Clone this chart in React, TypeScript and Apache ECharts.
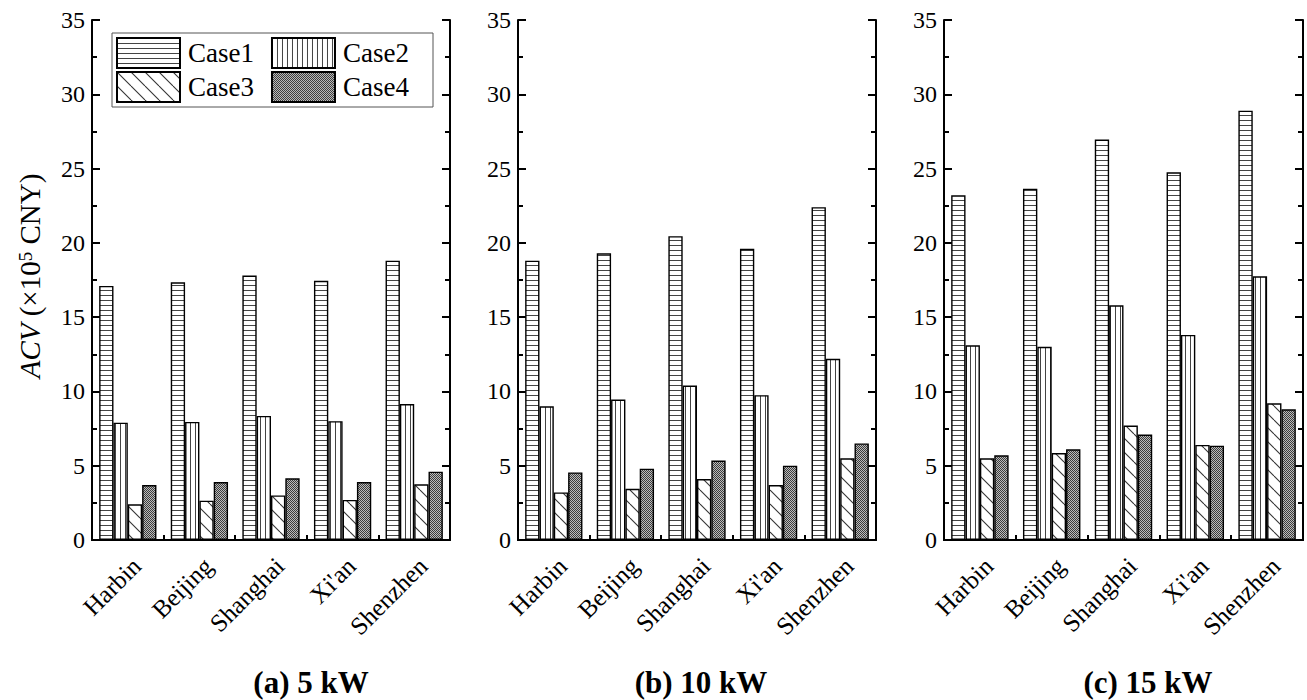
import React, { useEffect, useRef } from "react";
import * as echarts from "echarts";

const categories = ["Harbin", "Beijing", "Shanghai", "Xi'an", "Shenzhen"];
const caseNames = ["Case1", "Case2", "Case3", "Case4"];
const yTicks = [0, 5, 10, 15, 20, 25, 30, 35];
const panelTitles = ["(a) 5 kW", "(b) 10 kW", "(c) 15 kW"];

// (a) 5 kW
const kw5Case1 = [17.1, 17.35, 17.8, 17.45, 18.8];
const kw5Case2 = [7.9, 7.95, 8.35, 8.0, 9.15];
const kw5Case3 = [2.4, 2.65, 3.0, 2.7, 3.75];
const kw5Case4 = [3.7, 3.9, 4.15, 3.9, 4.6];
// (b) 10 kW
const kw10Case1 = [18.8, 19.3, 20.45, 19.6, 22.4];
const kw10Case2 = [9.0, 9.45, 10.4, 9.75, 12.2];
const kw10Case3 = [3.2, 3.45, 4.1, 3.7, 5.5];
const kw10Case4 = [4.55, 4.8, 5.35, 5.0, 6.5];
// (c) 15 kW
const kw15Case1 = [23.2, 23.65, 26.95, 24.75, 28.9];
const kw15Case2 = [13.1, 13.0, 15.8, 13.8, 17.75];
const kw15Case3 = [5.5, 5.85, 7.7, 6.4, 9.2];
const kw15Case4 = [5.7, 6.1, 7.1, 6.35, 8.8];

const panels = [
  [kw5Case1, kw5Case2, kw5Case3, kw5Case4],
  [kw10Case1, kw10Case2, kw10Case3, kw10Case4],
  [kw15Case1, kw15Case2, kw15Case3, kw15Case4],
];

const FONT = "Liberation Serif";

function makePattern(kind: string) {
  const c = document.createElement("canvas");
  let w = 5, h = 5;
  if (kind === "h") { w = 6; h = 5; }
  if (kind === "v") { w = 5; h = 6; }
  if (kind === "d") { w = 14; h = 14; }
  if (kind === "x") { w = 2; h = 2; }
  c.width = w; c.height = h;
  const ctx = c.getContext("2d")!;
  ctx.fillStyle = "#fff";
  ctx.fillRect(0, 0, w, h);
  if (kind === "h") { ctx.fillStyle = "#444"; ctx.fillRect(0, 0, w, 1); }
  if (kind === "v") { ctx.fillStyle = "#444"; ctx.fillRect(0, 0, 1, h); }
  if (kind === "d") {
    ctx.strokeStyle = "#333"; ctx.lineWidth = 1.1;
    for (const o of [-14, 0, 14]) {
      ctx.beginPath(); ctx.moveTo(o, 0); ctx.lineTo(o + 14, 14); ctx.stroke();
    }
  }
  if (kind === "x") {
    ctx.fillStyle = "#bbb"; ctx.fillRect(0, 0, 2, 2);
    ctx.fillStyle = "#3c3c3c"; ctx.fillRect(0, 0, 1, 1); ctx.fillRect(1, 1, 1, 1);
  }
  return { image: c, repeat: "repeat", imageWidth: w, imageHeight: h } as any;
}

export default function App() {
  const ref = useRef<HTMLDivElement>(null);
  useEffect(() => {
    if (!ref.current) return;
    const chart = echarts.init(ref.current, null, { renderer: "svg" });
    const patterns = [makePattern("h"), makePattern("v"), makePattern("d"), makePattern("x")];
    const gridLefts = [92, 518, 944];
    const gridWidths = [358, 358, 359];
    const titleCenters = [311, 701, 1148];
    const axisLine = { show: true, lineStyle: { color: "#000", width: 2 } };

    const grids: any[] = [];
    const xAxes: any[] = [];
    const yAxes: any[] = [];
    const series: any[] = [];
    panels.forEach((panel, i) => {
      grids.push({ left: gridLefts[i], width: gridWidths[i], top: 20, height: 520 });
      xAxes.push({
        gridIndex: i, type: "category", data: categories, position: "bottom",
        axisLine, axisTick: { show: true, inside: true, length: 5, lineStyle: { color: "#000", width: 2 } },
        axisLabel: { interval: 0, rotate: 45, fontSize: 25, fontFamily: FONT, color: "#000", margin: 13, align: "right", verticalAlign: "top" },
        splitLine: { show: false },
      });
      xAxes.push({
        gridIndex: i, type: "category", data: categories, position: "top",
        axisLine, axisTick: { show: false }, axisLabel: { show: false }, splitLine: { show: false },
      });
      const yBase = {
        gridIndex: i, type: "value", min: yTicks[0], max: yTicks[yTicks.length - 1], interval: 5,
        axisLine,
        axisTick: { show: true, inside: true, length: 8, lineStyle: { color: "#000", width: 2 } },
        minorTick: { show: true, splitNumber: 2, length: 5, lineStyle: { color: "#000", width: 2 } },
        splitLine: { show: false }, minorSplitLine: { show: false },
      };
      yAxes.push({ ...yBase, position: "left", axisLabel: { fontSize: 24, fontFamily: FONT, color: "#000", margin: 7 } });
      yAxes.push({ ...yBase, position: "right", axisLabel: { show: false } });
      panel.forEach((vals, j) => {
        series.push({
          type: "bar", name: caseNames[j], xAxisIndex: 2 * i, yAxisIndex: 2 * i, data: vals,
          barGap: "0%", barCategoryGap: "20%",
          itemStyle: { color: patterns[j], borderColor: "#000", borderWidth: 1.4 },
        });
      });
    });

    const legendBase = {
      left: 116, itemWidth: 63, itemHeight: 30, itemGap: 17, icon: "rect", selectedMode: false, padding: 0,
      textStyle: { fontSize: 27, fontFamily: FONT, color: "#000", padding: [0, 0, 0, 3] },
    };

    chart.setOption({
      animation: false,
      backgroundColor: "#fff",
      textStyle: { fontFamily: FONT },
      grid: grids,
      xAxis: xAxes,
      yAxis: yAxes,
      series,
      legend: [
        { ...legendBase, top: 37, data: [caseNames[0], caseNames[1]] },
        { ...legendBase, top: 71, data: [caseNames[2], caseNames[3]] },
      ],
      graphic: [
        { type: "rect", shape: { x: 112, y: 33, width: 321, height: 74 }, style: { fill: "none", stroke: "#555", lineWidth: 1 }, z: 10 },
        {
          type: "text", x: 30, y: 276, rotation: Math.PI / 2,
          style: {
            text: "{i|ACV} (×10{s|5} CNY)", textAlign: "center", textVerticalAlign: "middle",
            fontSize: 29, fontFamily: FONT, fill: "#000",
            rich: {
              i: { fontStyle: "italic", fontSize: 29, fontFamily: FONT, fill: "#000" },
              s: { fontSize: 19, fontFamily: FONT, verticalAlign: "top", fill: "#000" },
            },
          },
        },
        ...panelTitles.map((t, i) => ({
          type: "text", x: titleCenters[i], y: 682,
          style: { text: t, textAlign: "center", textVerticalAlign: "middle", fontSize: 31, fontWeight: "bold", fontFamily: FONT, fill: "#000" },
        })),
      ],
    });
    return () => chart.dispose();
  }, []);
  return <div ref={ref} style={{ position: "absolute", left: 0, top: 0, width: 1307, height: 700 }} />;
}
